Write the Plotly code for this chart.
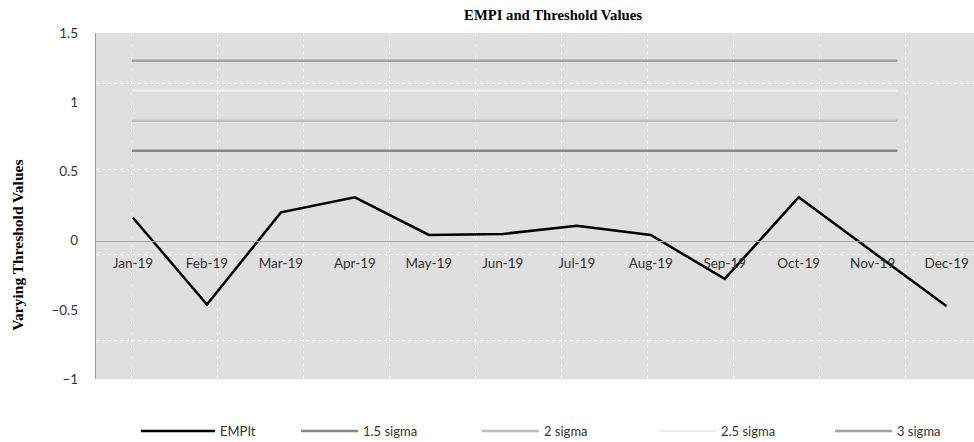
import plotly.graph_objects as go

# Monthly EMPI values and sigma-based threshold levels
months = ["Jan-19", "Feb-19", "Mar-19", "Apr-19", "May-19", "Jun-19",
          "Jul-19", "Aug-19", "Sep-19", "Oct-19", "Nov-19", "Dec-19"]
empit = [0.165, -0.462, 0.204, 0.313, 0.041, 0.048,
         0.108, 0.041, -0.277, 0.313, -0.081, -0.474]
sigma_1_5 = [0.65] * 12
sigma_2 = [0.866] * 12
sigma_2_5 = [1.083] * 12
sigma_3 = [1.30] * 12

tick_font = dict(family="Lato, 'Open Sans', sans-serif", size=13.5, color="#333333")
serif = "'Liberation Serif', 'Times New Roman', serif"
legend_font = dict(family="Lato, 'Open Sans', sans-serif", size=13, color="#333333")

fig = go.Figure()

# invisible trace that activates the patterned grid axes
fig.add_trace(go.Scatter(x=[], y=[], xaxis="x3", yaxis="y3", showlegend=False,
                         hoverinfo="skip"))

fig.add_trace(go.Scatter(x=months, y=empit, name="EMPIt", mode="lines",
                         legend="legend",
                         line=dict(color="#000000", width=2.5)))

thresholds = [
    ("1.5 sigma", sigma_1_5, "#888888", "legend2"),
    ("2 sigma", sigma_2, "#bdbdbd", "legend3"),
    ("2.5 sigma", sigma_2_5, "#eeeeee", "legend4"),
    ("3 sigma", sigma_3, "#a3a3a3", "legend5"),
]
for name, vals, color, leg in thresholds:
    fig.add_trace(go.Scatter(x=months, y=vals, name=name, mode="lines",
                             xaxis="x2", legend=leg,
                             line=dict(color=color, width=2.5)))

plot_w = 974 - 96
plot_h = 346.5


def legend_box(left_px, item_w):
    return dict(orientation="h", xref="container", x=left_px / 974, xanchor="left",
                yref="container", y=11 / 442, yanchor="middle",
                itemwidth=item_w, font=legend_font, bgcolor="rgba(0,0,0,0)")


fig.update_layout(
    width=974, height=442,
    margin=dict(l=96, r=0, t=32.5, b=63),
    paper_bgcolor="#ffffff",
    plot_bgcolor="#dfdfdf",
    title=dict(text="<b>EMPI and Threshold Values</b>",
               font=dict(family=serif, size=14.7, color="#000000"),
               x=553 / 974, xanchor="center", xref="container",
               y=1 - 15 / 442, yanchor="middle", yref="container"),
    xaxis=dict(type="category", range=[-0.5, 11.37], anchor="free", position=0.4,
               showgrid=False, zeroline=False, showline=True, linecolor="#a6a6a6",
               linewidth=1.3, ticks="", tickfont=tick_font, ticklabelstandoff=10),
    xaxis2=dict(type="category", overlaying="x", range=[-0.517, 12.1],
                visible=False),
    xaxis3=dict(overlaying="x", range=[0, plot_w], showticklabels=False,
                showgrid=True, griddash="dot", gridcolor="rgba(255,255,255,0.85)",
                gridwidth=1, tick0=35.7, dtick=86, zeroline=False, showline=False,
                ticks=""),
    yaxis=dict(range=[-1, 1.5], dtick=0.5, showgrid=False, zeroline=False,
               showline=True, linecolor="#999999", linewidth=1.3, ticks="",
               tickfont=tick_font, ticklabelstandoff=14),
    yaxis3=dict(overlaying="y", anchor="x3", range=[0, plot_h], showticklabels=False,
                showgrid=True, griddash="dot", gridcolor="rgba(255,255,255,0.85)",
                gridwidth=1, tick0=38.3, dtick=86, zeroline=False, showline=False,
                ticks=""),
    legend=legend_box(136, 74),
    legend2=legend_box(296, 57),
    legend3=legend_box(477, 57),
    legend4=legend_box(654, 57),
    legend5=legend_box(830, 57),
    showlegend=True,
    annotations=[dict(text="<b>Varying Threshold Values</b>", textangle=-90,
                      font=dict(family=serif, size=15.5, color="#000000"),
                      xref="paper", yref="paper",
                      x=(17.5 - 96) / plot_w, y=(379 - 245) / plot_h,
                      xanchor="center", yanchor="middle", showarrow=False)],
)

fig.write_html("out.html")
